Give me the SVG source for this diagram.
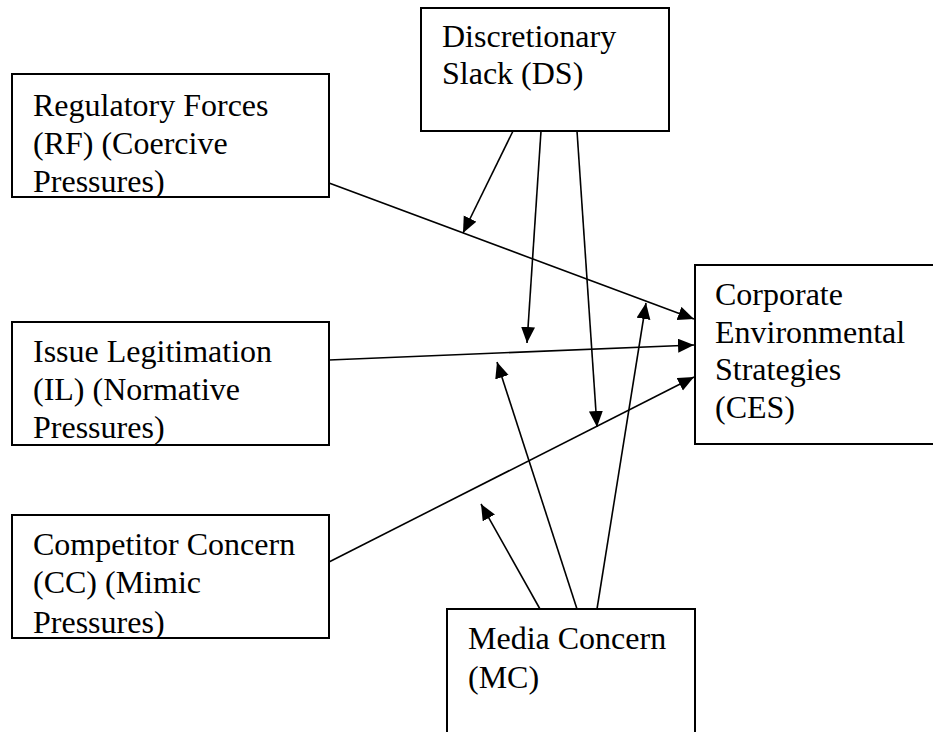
<svg xmlns="http://www.w3.org/2000/svg" width="933" height="732" viewBox="0 0 933 732">
<style>
.box{fill:#fff;stroke:#000;stroke-width:2}
.t{font-family:"Liberation Serif","Times New Roman",Times,serif;font-size:32px;fill:#000}
.c{fill:none;stroke:#000;stroke-width:1.6}
</style>
<defs>
<marker id="ah" markerUnits="userSpaceOnUse" markerWidth="18" markerHeight="16" refX="16" refY="7" orient="auto">
<path d="M0,0 L16,7 L0,14 z" fill="#000"/>
</marker>
<clipPath id="cRF"><rect x="12" y="74" width="317" height="123"/></clipPath>
<clipPath id="cIL"><rect x="12" y="322" width="317" height="123"/></clipPath>
<clipPath id="cCC"><rect x="12" y="515" width="317" height="123"/></clipPath>
</defs>
<rect width="933" height="732" fill="#fff"/>
<g id="DS">
<rect class="box" x="421" y="8" width="248" height="123"/>
<text class="t" x="442" y="47">Discretionary</text>
<text class="t" x="442" y="84">Slack (DS)</text>
</g>
<g id="RF">
<rect class="box" x="12" y="74" width="317" height="123"/>
<g clip-path="url(#cRF)">
<text class="t" x="33" y="116">Regulatory Forces</text>
<text class="t" x="33" y="154">(RF) (Coercive</text>
<text class="t" x="33" y="192">Pressures)</text>
</g>
</g>
<g id="IL">
<rect class="box" x="12" y="322" width="317" height="123"/>
<g clip-path="url(#cIL)">
<text class="t" x="33" y="362">Issue Legitimation</text>
<text class="t" x="33" y="400">(IL) (Normative</text>
<text class="t" x="33" y="438">Pressures)</text>
</g>
</g>
<g id="CC">
<rect class="box" x="12" y="515" width="317" height="123"/>
<g clip-path="url(#cCC)">
<text class="t" x="33" y="555">Competitor Concern</text>
<text class="t" x="33" y="593">(CC) (Mimic</text>
<text class="t" x="33" y="633">Pressures)</text>
</g>
</g>
<g id="CES">
<rect class="box" x="695" y="265" width="250" height="179"/>
<text class="t" x="715" y="305">Corporate</text>
<text class="t" x="715" y="343">Environmental</text>
<text class="t" x="715" y="380">Strategies</text>
<text class="t" x="715" y="418">(CES)</text>
</g>
<g id="MC">
<rect class="box" x="447" y="609" width="248" height="140"/>
<text class="t" x="468" y="649">Media Concern</text>
<text class="t" x="468" y="688">(MC)</text>
</g>
<g id="connectors">
<line class="c" x1="329" y1="183" x2="694" y2="319" marker-end="url(#ah)"/>
<line class="c" x1="329" y1="360" x2="694" y2="345" marker-end="url(#ah)"/>
<line class="c" x1="329" y1="562" x2="694" y2="377" marker-end="url(#ah)"/>
<line class="c" x1="513" y1="131" x2="463" y2="233" marker-end="url(#ah)"/>
<line class="c" x1="541" y1="131" x2="527" y2="343" marker-end="url(#ah)"/>
<line class="c" x1="577" y1="131" x2="597" y2="427" marker-end="url(#ah)"/>
<line class="c" x1="577" y1="609" x2="497" y2="362" marker-end="url(#ah)"/>
<line class="c" x1="540" y1="609" x2="481" y2="504" marker-end="url(#ah)"/>
<line class="c" x1="597" y1="609" x2="646" y2="303" marker-end="url(#ah)"/>
</g>
</svg>
